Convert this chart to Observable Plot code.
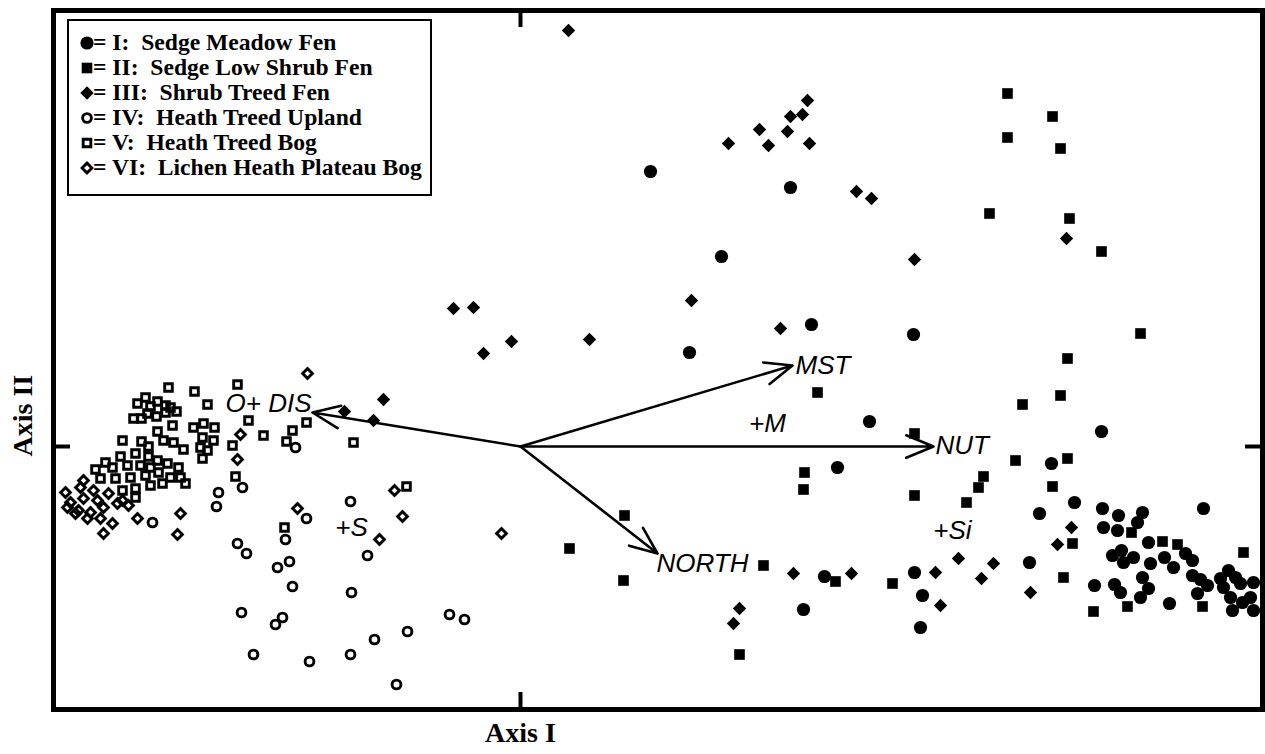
<!DOCTYPE html>
<html><head><meta charset="utf-8">
<script src="https://cdn.jsdelivr.net/npm/d3@7"></script>
<script src="https://cdn.jsdelivr.net/npm/@observablehq/plot@0.6"></script>
<style>
body{margin:0;background:#fff;}
#wrap{position:relative;width:1265px;height:754px;overflow:hidden;}
#legend{position:absolute;left:67px;top:19px;width:365px;height:177px;box-sizing:border-box;border:2.5px solid #000;background:#fff;}
.row{position:absolute;height:25px;line-height:25px;white-space:pre;font-family:"Liberation Serif","Times New Roman",serif;font-weight:bold;font-size:23.6px;color:#000;}
.sym{position:absolute;}
</style></head><body><div id="wrap"><div id="legend"></div></div>
<script>
// Ordination scores (x100)
const groupNames = ["I:  Sedge Meadow Fen","II:  Sedge Low Shrub Fen","III:  Shrub Treed Fen","IV:  Heath Treed Upland","V:  Heath Treed Bog","VI:  Lichen Heath Plateau Bog"];

const groupI = [[130,275],[270,259],[201,190],[291,122],[393,112],[169,94],[581,15],[531,-17],[349,25],[317,-21],[304,-130],[394,-126],[283,-163],[554,-56],[519,-67],[582,-62],[598,-69],[583,-81],[597,-84],[509,-116],[402,-149],[400,-181],[574,-139],[594,-138],[600,-146],[622,-66],[683,-62],[617,-76],[628,-96],[592,-109],[601,-104],[603,-116],[613,-111],[630,-117],[644,-111],[653,-121],[665,-107],[672,-114],[622,-131],[628,-142],[620,-151],[672,-129],[680,-133],[687,-139],[677,-147],[708,-124],[700,-132],[703,-141],[715,-131],[720,-137],[733,-136],[710,-151],[722,-156],[730,-151],[712,-164],[733,-164],[649,-157]];

const groupII = [[487,353],[532,330],[487,309],[540,298],[469,233],[549,228],[581,195],[620,113],[547,88],[540,51],[502,42],[394,13],[495,-14],[547,-12],[463,-30],[297,54],[284,-26],[283,-43],[394,-49],[104,-69],[49,-102],[103,-134],[243,-119],[315,-135],[372,-137],[219,-208],[458,-41],[532,-40],[446,-56],[552,-97],[543,-131],[573,-165],[642,-95],[657,-98],[723,-106],[607,-160],[682,-160],[611,-86]];

const groupIII = [[48,416],[208,303],[239,317],[248,301],[267,315],[270,330],[282,332],[287,346],[289,303],[336,255],[351,248],[394,187],[171,146],[260,118],[-9,105],[69,107],[546,208],[-67,138],[-47,139],[-37,93],[-137,47],[-176,35],[-147,26],[273,-127],[331,-127],[219,-162],[213,-177],[551,-81],[537,-98],[438,-112],[473,-117],[461,-132],[415,-126],[420,-159],[510,-146]];

const groupIV = [[-225,-1],[-278,-41],[-302,-46],[-304,-60],[-368,-76],[-170,-55],[-214,-72],[-235,-93],[-283,-97],[-274,-107],[-153,-109],[-243,-121],[-231,-115],[-228,-140],[-169,-146],[-279,-166],[-238,-171],[-245,-178],[-71,-168],[-56,-173],[-113,-185],[-146,-193],[-267,-208],[-211,-215],[-170,-208],[-124,-238]];

const groupV = [[-352,59],[-326,55],[-283,62],[-313,42],[-272,26],[-214,24],[-257,11],[-228,16],[-234,5],[-167,4],[-288,1],[-285,-30],[-236,-81],[-114,-40],[-335,-37],
[-375,49],[-383,43],[-363,45],[-370,40],[-355,41],[-350,39],[-344,35],[-387,28],[-379,28],[-373,33],[-364,30],[-355,34],[-348,21],[-363,15],[-357,6],[-347,4],[-337,-3],[-327,19],[-317,23],[-306,19],[-318,9],[-307,6],[-320,-1],[-313,-4],[-318,-12],[-398,6],[-379,5],[-372,0],
[-415,-16],[-400,-10],[-385,-7],[-372,-10],[-363,-14],[-425,-23],[-408,-21],[-393,-19],[-380,-19],[-370,-21],[-353,-17],[-342,-21],[-420,-32],[-405,-32],[-390,-31],[-375,-29],[-362,-26],[-350,-31],[-340,-31],[-385,-42],[-370,-39],[-358,-37],[-398,-44],[-385,-51]];

const groupVI = [[-213,73],[-280,12],[-283,-13],[-340,-67],[-343,-88],[-383,-72],[-126,-44],[-118,-70],[-223,-62],[-141,-93],[-19,-87],
[-437,-34],[-455,-46],[-440,-41],[-427,-44],[-412,-47],[-450,-56],[-437,-52],[-423,-54],[-398,-54],[-453,-61],[-442,-64],[-430,-66],[-417,-61],[-403,-57],[-392,-59],[-445,-67],[-433,-72],[-420,-72],[-408,-77],[-417,-87]];

// Environmental vectors
const vectorNames = ["DIS","MST","NUT","NORTH"];
const vectorX = [-208, 272, 413, 137];
const vectorY = [34, 81, 0, -107];

// Text labels for vectors and centroids
const labelText = ["MST","NUT","NORTH","O+ DIS","+M","+S","+Si"];
const labelX = [275, 415, 136, -209, 247, -169, 432];
const labelY = [81, 1, -117, 43, 23, -81, -84];
const labelAnchor = ["start","start","start","end","middle","middle","middle"];

const xDomain = [-467, 742];
const yDomain = [-263, 436];

const rows = a => a.map(([x, y]) => ({x, y}));
const vectors = vectorNames.map((n, i) => ({name: n, x0: 0, y0: 0, x: vectorX[i], y: vectorY[i]}));
const labels = labelText.map((t, i) => ({t, x: labelX[i], y: labelY[i], a: labelAnchor[i]}));

const W = 1265, H = 754, mL = 53, mR = 3, mT = 10, mB = 45;
const fw = W - mL - mR, fh = H - mT - mB;

const serif = "'Liberation Serif','Times New Roman',serif";
const sans = "'Liberation Sans',Arial,Helvetica,sans-serif";
const tickLen = 17;

const styles = [
  {symbol: "circle", r: 6.6, fill: "black"},
  {symbol: "square", r: 6, fill: "black"},
  {symbol: "diamond2", r: 6, fill: "black"},
  {symbol: "circle", r: 4.4, fill: "none", stroke: "black", strokeWidth: 2.9},
  {symbol: "square", r: 4.3, fill: "none", stroke: "black", strokeWidth: 2.9},
  {symbol: "diamond2", r: 4.4, fill: "none", stroke: "black", strokeWidth: 2.9}
];
const groups = [groupI, groupII, groupIII, groupIV, groupV, groupVI];

const textMarks = ["start","end","middle"].map(a => Plot.text(labels.filter(d => d.a === a), {
  x: "x", y: "y", text: "t", textAnchor: a, lineAnchor: "middle",
  fontFamily: sans, fontStyle: "italic", fontSize: 26, fill: "black"
}));

const chart = Plot.plot({
  width: W, height: H,
  marginLeft: mL, marginRight: mR, marginTop: mT, marginBottom: mB,
  x: {domain: xDomain, axis: null},
  y: {domain: yDomain, axis: null},
  style: {background: "white", overflow: "visible"},
  marks: [
    Plot.tickX([0], {x: d => d, insetTop: fh - tickLen, strokeWidth: 4, stroke: "black"}),
    Plot.tickX([0], {x: d => d, insetBottom: fh - tickLen, strokeWidth: 4, stroke: "black"}),
    Plot.tickY([0], {y: d => d, insetRight: fw - tickLen, strokeWidth: 4, stroke: "black"}),
    Plot.tickY([0], {y: d => d, insetLeft: fw - tickLen, strokeWidth: 4, stroke: "black"}),
    Plot.arrow(vectors, {x1: "x0", y1: "y0", x2: "x", y2: "y", stroke: "black", strokeWidth: 2.6, headLength: 17, headAngle: 45}),
    ...groups.map((g, i) => Plot.dot(rows(g), {x: "x", y: "y", ...styles[i]})),
    ...textMarks,
    Plot.frame({stroke: "black", strokeWidth: 5}),
    Plot.text(["Axis I"], {x: () => 0, text: d => d, frameAnchor: "bottom", dy: 24, lineAnchor: "middle",
      fontFamily: serif, fontWeight: "bold", fontSize: 28, fill: "black"}),
    Plot.text(["Axis II"], {y: () => 0, text: d => d, frameAnchor: "left", dx: -30, dy: 10, rotate: -90, lineAnchor: "middle",
      fontFamily: serif, fontWeight: "bold", fontSize: 28, fill: "black"})
  ]
});
document.getElementById("wrap").prepend(chart);

// Legend drawn over the plot, in the upper-left corner
const wrap = document.getElementById("wrap");
const rowCenters = [43, 68, 93, 118, 143, 168];
groupNames.forEach((name, i) => {
  const s = styles[i];
  const svg = d3.create("svg").attr("class", "sym").attr("width", 16).attr("height", 16)
    .style("left", (87 - 8) + "px").style("top", (rowCenters[i] - 8) + "px");
  const type = s.symbol === "circle" ? d3.symbolCircle : s.symbol === "square" ? d3.symbolSquare : d3.symbolDiamond2;
  svg.append("path").attr("transform", "translate(8,8)")
    .attr("d", d3.symbol(type, s.r * s.r * Math.PI)())
    .attr("fill", s.fill).attr("stroke", s.stroke || "none").attr("stroke-width", s.strokeWidth || 0);
  wrap.appendChild(svg.node());
  const div = document.createElement("div");
  div.className = "row";
  div.style.left = "93px";
  div.style.top = (rowCenters[i] - 13) + "px";
  div.textContent = "= " + name;
  wrap.appendChild(div);
});
</script>
</body></html>
